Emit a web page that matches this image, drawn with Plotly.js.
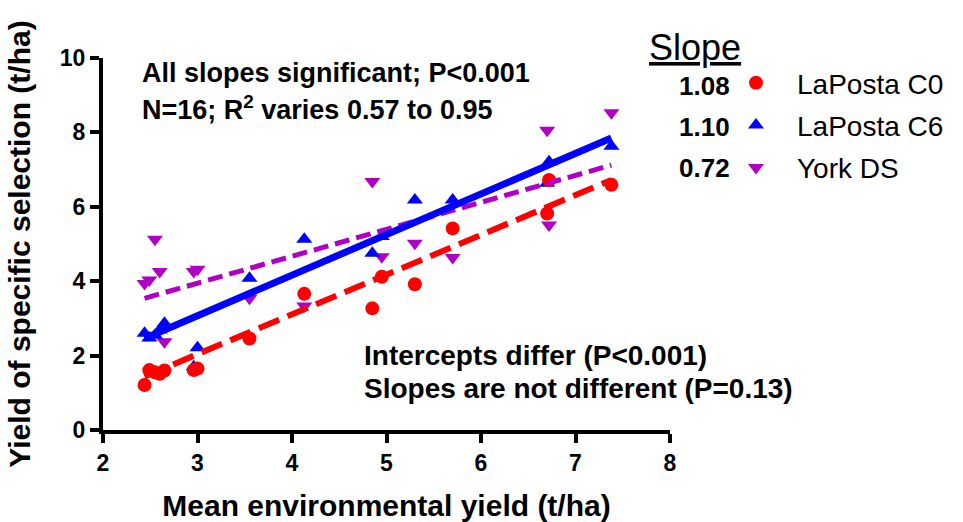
<!DOCTYPE html>
<html>
<head>
<meta charset="utf-8">
<script src="https://cdn.plot.ly/plotly-3.0.1.min.js"></script>
<style>html,body{margin:0;padding:0;background:#fff;}#chart{width:963px;height:522px;}</style>
</head>
<body>
<div id="chart"></div>
<script>
// Mean environmental yield (t/ha) for the 16 environments
const envYield = [2.44, 2.49, 2.55, 2.60, 2.65, 2.96, 3.00, 3.55, 4.13, 4.85, 4.95, 5.30, 5.70, 6.70, 6.72, 7.38];
// Yield of each specific selection (t/ha)
const laPostaC0 = [1.21, 1.61, 1.55, 1.51, 1.60, 1.61, 1.65, 2.46, 3.66, 3.27, 4.12, 3.92, 5.42, 5.82, 6.72, 6.59];
const laPostaC6 = [2.60, 2.47, 2.55, 2.69, 2.87, 1.70, 2.21, 4.08, 5.13, 4.75, 5.20, 6.18, 6.18, 6.63, 7.21, 7.63];
const yorkDS    = [3.94, 4.03, 5.13, 4.26, 2.37, 4.26, 4.32, 3.54, 3.33, 6.68, 4.66, 5.02, 4.64, 8.06, 5.51, 8.53];
// Fitted regression lines (endpoints)
const fitX = [2.44, 7.38];
const fitC0 = [1.44, 6.72];
const fitC6 = [2.46, 7.85];
const fitYork = [3.54, 7.12];
const seriesNames = ["LaPosta C0", "LaPosta C6", "York DS"];
const slopes = ["1.08", "1.10", "0.72"];
// Tick labels
const xTickVals = [2, 3, 4, 5, 6, 7, 8];
const yTickVals = [0, 2, 4, 6, 8, 10];

const RED = "#FF0000", BLUE = "#0000FF", MAG = "#B000C4";
const FONT = "Liberation Sans, Arial, sans-serif";

const traces = [
  {x: envYield, y: yorkDS, type: "scatter", mode: "markers", name: seriesNames[2], legendrank: 3, legendgroup: "c",
   marker: {symbol: "triangle-down", size: 14, color: MAG}},
  {x: envYield, y: laPostaC6, type: "scatter", mode: "markers", name: seriesNames[1], legendrank: 2, legendgroup: "b",
   marker: {symbol: "triangle-up", size: 14, color: BLUE}},
  {x: envYield, y: laPostaC0, type: "scatter", mode: "markers", name: seriesNames[0], legendrank: 1, legendgroup: "a",
   marker: {symbol: "circle", size: 14, color: RED}},
  {x: fitX, y: fitYork, type: "scatter", mode: "lines", showlegend: false,
   line: {color: MAG, width: 5, dash: "15px,7px"}},
  {x: fitX, y: fitC0, type: "scatter", mode: "lines", showlegend: false,
   line: {color: RED, width: 6, dash: "22px,9px"}},
  {x: fitX, y: fitC6, type: "scatter", mode: "lines", showlegend: false,
   line: {color: BLUE, width: 7}}
];

function px2paperX(p){ return (p - 103) / 567; }
function px2paperY(p){ return (430 - p) / 372; }

const annotations = [
  {text: "All slopes significant; P<0.001", x: px2paperX(140), y: px2paperY(73), s: 27},
  {text: "N=16; R<sup>2</sup> varies 0.57 to 0.95", x: px2paperX(140), y: px2paperY(108), s: 27},
  {text: "Intercepts differ (P<0.001)", x: px2paperX(362), y: px2paperY(355), s: 28},
  {text: "Slopes are not different (P=0.13)", x: px2paperX(362), y: px2paperY(388), s: 28}
].map(a => ({text: a.text, x: a.x, y: a.y, xref: "paper", yref: "paper", xanchor: "left", yanchor: "middle",
  showarrow: false, font: {family: FONT, size: a.s, color: "#000", weight: "bold"}}));

annotations.push({text: "<u>Slope</u>", x: px2paperX(695), y: px2paperY(47), xref: "paper", yref: "paper",
  xanchor: "center", yanchor: "middle", showarrow: false, font: {family: FONT, size: 36, color: "#000"}});
const slopeY = [86, 127, 168];
slopes.forEach((s, i) => annotations.push({text: s, x: px2paperX(732), y: px2paperY(slopeY[i]),
  xref: "paper", yref: "paper", xanchor: "right", yanchor: "middle", showarrow: false,
  font: {family: FONT, size: 26, color: "#000", weight: "bold"}}));

const axisCommon = {
  showline: true, linewidth: 4, linecolor: "#000", ticks: "outside", ticklen: 9, tickwidth: 4,
  tickcolor: "#000", showgrid: false, zeroline: false, tickmode: "array",
  tickfont: {family: FONT, size: 23, color: "#000"}
};

const layout = {
  width: 963, height: 522,
  margin: {l: 103, r: 293, t: 58, b: 92},
  paper_bgcolor: "#fff", plot_bgcolor: "#fff",
  font: {family: FONT, color: "#000"},
  xaxis: Object.assign({}, axisCommon, {range: [2, 8], tickvals: xTickVals,
    ticktext: xTickVals.map(v => "<b>" + v + "</b>"),
    title: {text: "<b>Mean environmental yield (t/ha)</b>", font: {family: FONT, size: 30}}}),
  yaxis: Object.assign({}, axisCommon, {range: [0, 10], tickvals: yTickVals,
    ticktext: yTickVals.map(v => "<b>" + v + "</b>"),
    title: {text: "<b>Yield of specific selection (t/ha)</b>", font: {family: FONT, size: 30}}}),
  showlegend: true,
  legend: {x: px2paperX(715), y: px2paperY(58), xanchor: "left", yanchor: "top",
    font: {family: FONT, size: 28, color: "#000"}, itemwidth: 72, tracegroupgap: 3,
    borderwidth: 0, bgcolor: "rgba(0,0,0,0)", traceorder: "grouped"},
  annotations: annotations
};

Plotly.newPlot("chart", traces, layout, {displayModeBar: false, staticPlot: true});
</script>
</body>
</html>
